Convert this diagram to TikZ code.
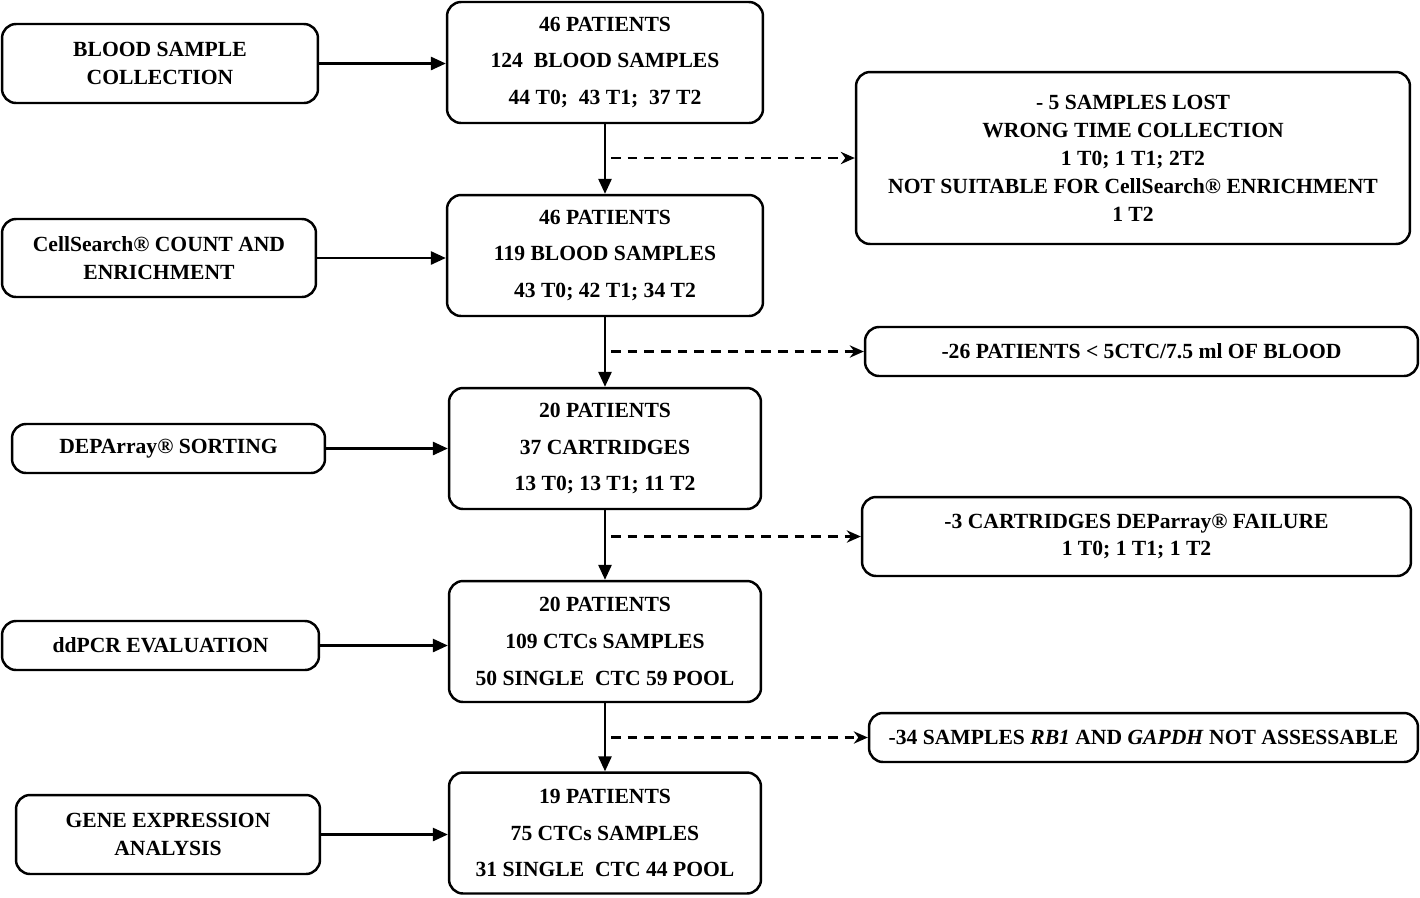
\documentclass[tikz,border=0pt]{standalone}
\usepackage{fontspec}
\setmainfont{Liberation Serif}
\usepackage{tikz}
\usetikzlibrary{positioning,arrows.meta,calc}

\begin{document}
\begin{tikzpicture}[
  x=0.02cm, y=-0.02cm,
  font=\fontsize{12.3}{15.9}\selectfont\bfseries,
  box/.style={rectangle, rounded corners=8pt, draw=black, line width=1.4pt, align=center, inner sep=2pt},
  stepbox/.style={box, font=\fontsize{12.3}{21}\selectfont\bfseries, minimum width=6.32cm, minimum height=2.42cm},
  flow/.style={-{Triangle[length=8.5pt,width=7.5pt]}, line width=1.2pt},
  lossflow/.style={-{Stealth[length=8pt,width=7pt]}, line width=1.2pt, dash pattern=on 5.5pt off 4pt},
]
\useasboundingbox (0,0) rectangle (1420,897);

% left column: procedures
\node[box, minimum width=6.32cm, minimum height=1.58cm] (proc1) at (160,63.5) {BLOOD SAMPLE\\COLLECTION};
\node[box, minimum width=6.28cm, minimum height=1.56cm] (proc2) at (159,258) {CellSearch® COUNT AND\\ENRICHMENT};
\node[box, minimum width=6.26cm, minimum height=0.98cm] (proc3) at (168.5,448.5) {DEPArray® SORTING};
\node[box, minimum width=6.34cm, minimum height=0.98cm] (proc4) at (160.5,645.5) {ddPCR EVALUATION};
\node[box, minimum width=6.08cm, minimum height=1.58cm] (proc5) at (168,834.5) {GENE EXPRESSION\\ANALYSIS};

% middle column: remaining patients and samples
\node[stepbox] (stage1) at (605,62.5) {46 PATIENTS\\124~ BLOOD SAMPLES\\44 T0;~ 43 T1;~ 37 T2};
\node[stepbox] (stage2) at (605,255.5) {46 PATIENTS\\119 BLOOD SAMPLES\\43 T0; 42 T1; 34 T2};
\node[stepbox, minimum width=6.24cm] (stage3) at (605,448.5) {20 PATIENTS\\37 CARTRIDGES\\13 T0; 13 T1; 11 T2};
\node[stepbox, minimum width=6.24cm] (stage4) at (605,641.5) {20 PATIENTS\\109 CTCs SAMPLES\\50 SINGLE~ CTC 59 POOL};
\node[stepbox, minimum width=6.24cm] (stage5) at (605,833) {19 PATIENTS\\75 CTCs SAMPLES\\31 SINGLE~ CTC 44 POOL};

% right column: exclusions
\node[box, minimum width=11.08cm, minimum height=3.44cm] (loss1) at (1133,158) {- 5 SAMPLES LOST\\WRONG TIME COLLECTION\\1 T0; 1 T1; 2T2\\NOT SUITABLE FOR CellSearch® ENRICHMENT\\1 T2};
\node[box, minimum width=11.06cm, minimum height=0.98cm] (loss2) at (1141.5,351.5) {-26 PATIENTS < 5CTC/7.5 ml OF BLOOD};
\node[box, minimum width=10.98cm, minimum height=1.58cm] (loss3) at (1136.5,536.5) {-3 CARTRIDGES DEParray® FAILURE\\1 T0; 1 T1; 1 T2};
\node[box, minimum width=10.98cm, minimum height=0.98cm] (loss4) at (1143.5,737.5) {-34 SAMPLES \textit{RB1} AND \textit{GAPDH} NOT ASSESSABLE};

% procedure -> stage
\foreach \i in {1,...,5} {
  \draw[flow] (proc\i.east) -- (proc\i.east -| stage\i.west);
}

% stage -> stage and dashed exclusions
\foreach \i [count=\j from 2] in {1,...,4} {
  \draw[flow] (stage\i.south) -- (stage\j.north);
  \coordinate (split\i) at ($(stage\i.south |- loss\i.west)+(6,0)$);
  \draw[lossflow] (split\i) -- (loss\i.west);
}
\end{tikzpicture}
\end{document}
